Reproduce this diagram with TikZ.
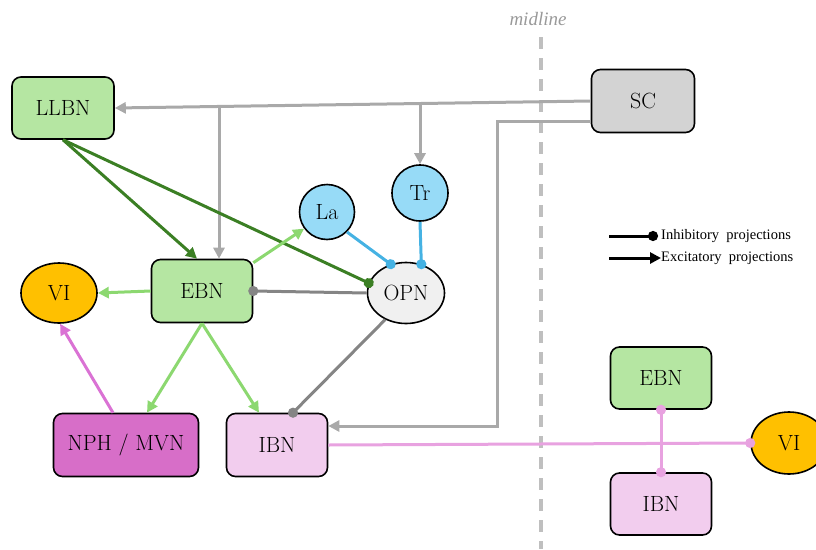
\documentclass[tikz,border=0pt]{standalone}
\usepackage{fontspec}
\newfontfamily\legfont{Liberation Serif}
\usetikzlibrary{arrows.meta,shapes.geometric}
\definecolor{boxgreen}{HTML}{B5E6A2}
\definecolor{scgray}{HTML}{D3D3D3}
\definecolor{vigold}{HTML}{FFC000}
\definecolor{opngray}{HTML}{F0F0F0}
\definecolor{skyb}{HTML}{97DBF7}
\definecolor{nphpink}{HTML}{D76EC8}
\definecolor{ibnpink}{HTML}{F2CDEE}
\definecolor{dkgreen}{HTML}{3B7F24}
\definecolor{ltgreen}{HTML}{8CD870}
\definecolor{lngray}{HTML}{A9A9A9}
\definecolor{dkgray}{HTML}{858585}
\definecolor{lnblue}{HTML}{45B2E3}
\definecolor{lnorchid}{HTML}{DA72D4}
\definecolor{lnpink}{HTML}{E8A2E0}
\definecolor{midgray}{HTML}{BFBFBF}
\begin{document}
\begin{tikzpicture}[x=1pt,y=-1pt,
  every node/.style={font=\fontsize{22}{26}\selectfont},
  rbox/.style={draw=black,line width=1.6pt,rounded corners=9pt,inner sep=0pt,minimum height=62pt},
  ellnode/.style={draw=black,line width=1.6pt,ellipse,inner sep=0pt},
  circnode/.style={draw=black,line width=1.6pt,circle,inner sep=0pt,fill=skyb},
  conn/.style={line width=3pt},
  ex/.style={conn,-{Triangle[length=11pt,width=11pt]}},
  inh/.style={conn,-{Circle[length=10pt]},shorten >=-5pt},
  inhboth/.style={conn,{Circle[length=10pt]}-{Circle[length=10pt]},shorten >=-5pt,shorten <=-5pt},
]
\useasboundingbox (0,0) rectangle (816,549);
\clip (0,0) rectangle (816,549);
% midline
\draw[midgray,line width=3.4pt,dash pattern=on 12pt off 9pt] (541,37) -- (541,549);
\node[text=black!40,font=\legfont\itshape\fontsize{19}{21}\selectfont] (ml) at (538,19) {midline};
% nodes
\node[rbox,fill=boxgreen,minimum width=102pt] (LLBN) at (63,108) {LLBN};
\node[rbox,fill=scgray,minimum width=103pt,minimum height=63pt] (SC) at (643,101) {SC};
\node[rbox,fill=boxgreen,minimum width=101pt,minimum height=63pt] (EBN) at (202,291) {EBN};
\node[ellnode,fill=vigold,minimum width=76pt,minimum height=60pt] (VIL) at (59,293) {VI};
\node[ellnode,fill=opngray,minimum width=77pt,minimum height=61pt] (OPN) at (406,293) {OPN};
\node[circnode,minimum size=55pt] (La) at (327,212) {La};
\node[circnode,minimum size=56pt] (Tr) at (420,193) {Tr};
\node[rbox,fill=nphpink,minimum width=145pt,minimum height=63pt] (NPH) at (126,445) {NPH / MVN};
\node[rbox,fill=ibnpink,minimum width=101pt,minimum height=63pt] (IBN) at (277,445) {IBN};
\node[rbox,fill=boxgreen,minimum width=101pt] (EBN2) at (661,378) {EBN};
\node[rbox,fill=ibnpink,minimum width=101pt] (IBN2) at (661,504) {IBN};
\node[ellnode,fill=vigold,minimum width=76pt,minimum height=62pt] (VIR) at (789,443) {VI};
% SC projections
\coordinate (b1) at (219,106.5);
\coordinate (b2) at (420,103.5);
\coordinate (scturn) at (497,426);
\draw[lngray,ex] (SC.west) -- (LLBN.east);
\draw[lngray,ex] (b1) -- (b1 |- EBN.north);
\draw[lngray,ex] (b2) -- (Tr.north);
\draw[lngray,ex] ([yshift=-20pt]SC.west) -| (scturn) -- ([yshift=19pt]IBN.east);
% LLBN
\draw[dkgreen,ex] (LLBN.south) -- ([xshift=-5pt]EBN.north);
\draw[dkgreen,inh] (LLBN.south) -- (OPN.165);
% EBN
\draw[ltgreen,ex] ([yshift=-4pt]EBN.north east) -- (La.216);
\draw[ltgreen,ex] (EBN.west) -- (VIL.east);
\draw[ltgreen,ex] (EBN.south) -- ([xshift=21pt]NPH.north);
\draw[ltgreen,ex] (EBN.south) -- ([xshift=-18pt]IBN.north);
% OPN
\draw[dkgray,inh] (OPN.west) -- (EBN.east);
\draw[dkgray,inh] (OPN.232) -- ([xshift=16pt]IBN.north);
\draw[lnblue,inh] (La.-45) -- (OPN.118);
\draw[lnblue,inh] (Tr.south) -- (OPN.62);
% NPH
\draw[lnorchid,ex] ([xshift=-13pt]NPH.north) -- (VIL.272);
% IBN to contralateral VI
\draw[lnpink,inh] (IBN.east) -- (VIR.west);
\draw[lnpink,inhboth] (EBN2.south) -- (IBN2.north);
% legend
\coordinate (l1a) at (609,236);
\coordinate (l1b) at (653,236);
\coordinate (l2a) at (609,258);
\coordinate (l2b) at (661,258);
\draw[black,inh] (l1a) -- (l1b);
\draw[black,ex] (l2a) -- (l2b);
\node[anchor=west,inner sep=0pt,font=\legfont\fontsize{14.5}{16}\selectfont] (t1) at (661,236) {Inhibitory\ \ projections};
\node[anchor=west,inner sep=0pt,font=\legfont\fontsize{14.5}{16}\selectfont] (t2) at (661,258) {Excitatory\ \ projections};
\end{tikzpicture}
\end{document}
